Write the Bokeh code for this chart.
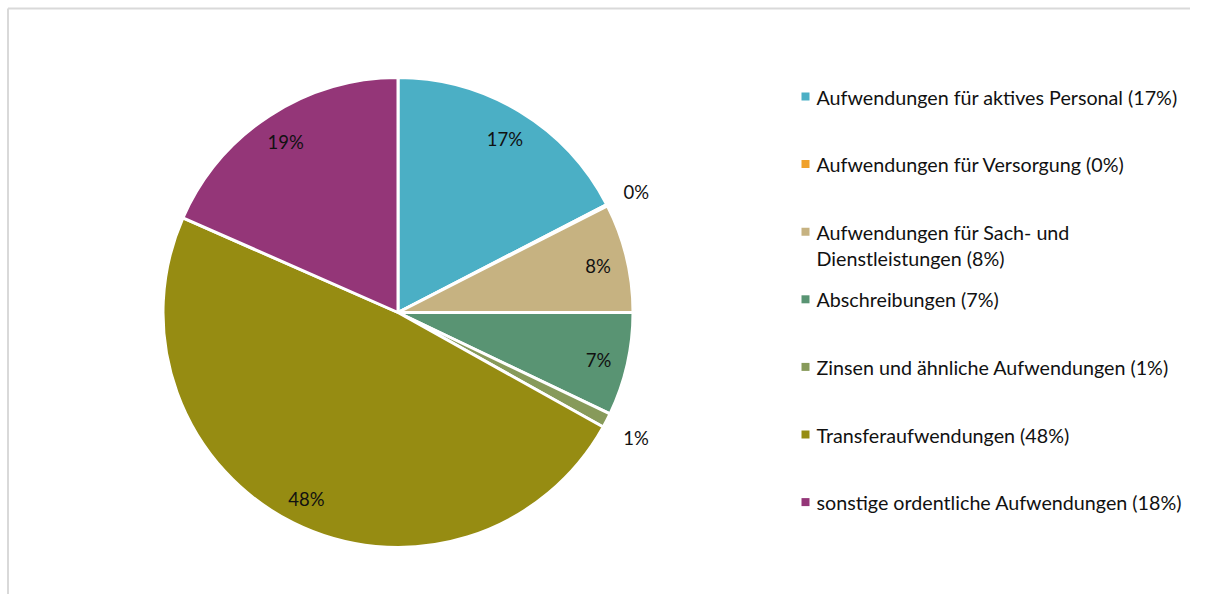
import numpy as np
from bokeh.plotting import figure
from bokeh.models import Range1d, ColumnDataSource
from bokeh.core.properties import value
from bokeh.embed import file_html
from bokeh.resources import INLINE

# ---- data ----
categories = [
    "Aufwendungen für aktives Personal",
    "Aufwendungen für Versorgung",
    "Aufwendungen für Sach- und Dienstleistungen",
    "Abschreibungen",
    "Zinsen und ähnliche Aufwendungen",
    "Transferaufwendungen",
    "sonstige ordentliche Aufwendungen",
]
shares = [17.4, 0.1, 7.5, 7.1, 1.0, 48.5, 18.4]
slice_labels = ["17%", "0%", "8%", "7%", "1%", "48%", "19%"]
legend_labels = [
    "Aufwendungen für aktives Personal (17%)",
    "Aufwendungen für Versorgung (0%)",
    "Aufwendungen für Sach- und\nDienstleistungen (8%)",
    "Abschreibungen (7%)",
    "Zinsen und ähnliche Aufwendungen (1%)",
    "Transferaufwendungen (48%)",
    "sonstige ordentliche Aufwendungen (18%)",
]
colors = ["#4BAFC5", "#F0A12B", "#C6B281", "#599473", "#879A5A", "#968C12", "#943678"]

# ---- layout (pixel-like data space: x = screen x, y = 610 - screen y) ----
W, H = 1190, 594
p = figure(width=W, height=H, output_backend="svg", toolbar_location=None,
           x_range=Range1d(0, W), y_range=Range1d(610 - H, 610),
           min_border=0, min_border_left=0, min_border_right=0,
           min_border_top=0, min_border_bottom=0)
p.axis.visible = False
p.grid.visible = False
p.outline_line_color = None
p.background_fill_color = "white"
p.border_fill_color = "white"

font = value("Lato")
cx, cy, r = 397.5, 298.0, 235.0

vals = np.array(shares, dtype=float)
frac = vals / vals.sum()
c1 = np.cumsum(frac)
c0 = c1 - frac
start = np.pi / 2 - 2 * np.pi * c1
end = np.pi / 2 - 2 * np.pi * c0
mid = (start + end) / 2

src = ColumnDataSource(dict(start=start, end=end, color=colors, cat=categories))
p.wedge(x=cx, y=cy, radius=r, start_angle="start", end_angle="end",
        fill_color="color", line_color="white", line_width=3, source=src)

lab_r = np.where(vals < 2, r * 1.14, r * 0.875)
lsrc = ColumnDataSource(dict(x=cx + lab_r * np.cos(mid), y=cy + lab_r * np.sin(mid) - 2,
                             t=slice_labels))
p.text(x="x", y="y", text="t", source=lsrc, text_font=font, text_font_size="18.5px",
       text_align="center", text_baseline="middle", text_color="#111111")

# legend (manual)
n = len(legend_labels)
ly = 610 - (96.5 + 67.6 * np.arange(n))
leg = ColumnDataSource(dict(x=np.full(n, 805.0), y=ly + 0.5, color=colors))
p.scatter(x="x", y="y", marker="square", size=8, fill_color="color",
          line_color=None, source=leg)
txt_x, txt_y, txt_t = [], [], []
for yy, lab in zip(ly, legend_labels):
    for k, part in enumerate(lab.split("\n")):
        txt_x.append(816.0)
        txt_y.append(yy - 26 * k)
        txt_t.append(part)
p.text(x=txt_x, y=txt_y, text=txt_t, text_font=font, text_font_size="19.7px",
       text_align="left", text_baseline="middle", text_color="#111111")

# chart border (top and left visible)
p.segment(x0=[7.5, 7.5], y0=[602, 0], x1=[1300, 7.5], y1=[602, 602],
          line_color="#D9D9D9", line_width=2)

open("out.html", "w").write(file_html(p, INLINE))
